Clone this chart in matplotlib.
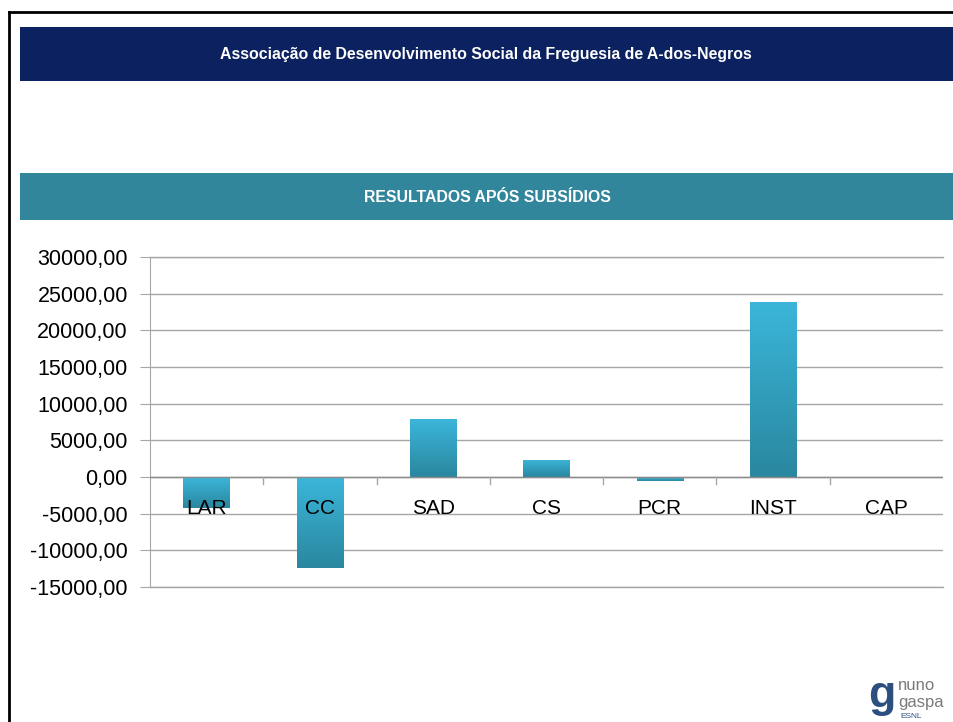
import matplotlib
matplotlib.use("Agg")
import matplotlib.pyplot as plt
import numpy as np
from matplotlib.patches import Rectangle
from matplotlib.ticker import FuncFormatter, MultipleLocator
from matplotlib.colors import LinearSegmentedColormap

categories = ["LAR", "CC", "SAD", "CS", "PCR", "INST", "CAP"]
values = [-4200, -12400, 7900, 2350, -500, 23900, -250]
title_top = "Associação de Desenvolvimento Social da Freguesia de A-dos-Negros"
title_chart = "RESULTADOS APÓS SUBSÍDIOS"

W, H = 954, 722
fig = plt.figure(figsize=(W / 100, H / 100), dpi=100)
fig.patch.set_facecolor("white")

def fy(y):
    return 1 - y / H

def fx(x):
    return x / W

narrow = ["Liberation Sans Narrow", "Liberation Sans", "DejaVu Sans"]
regular = ["Liberation Sans", "DejaVu Sans"]

# Page frame lines
fig.add_artist(plt.Line2D([fx(9), fx(9)], [fy(12), fy(722)], color="black", lw=2))
fig.add_artist(plt.Line2D([fx(9), fx(954)], [fy(12), fy(12)], color="black", lw=2))

# Header bands
fig.add_artist(Rectangle((fx(20), fy(81)), fx(934), (81 - 27) / H,
                         facecolor="#0c2260", edgecolor="none", transform=fig.transFigure))
fig.text(fx(486), fy(55), title_top, color="white", fontsize=11.4, fontweight="bold",
         ha="center", va="center", family=narrow)
fig.add_artist(Rectangle((fx(20), fy(220)), fx(934), (220 - 173) / H,
                         facecolor="#31869c", edgecolor="none", transform=fig.transFigure))
fig.text(fx(487), fy(197), title_chart, color="white", fontsize=11.4, fontweight="bold",
         ha="center", va="center", family=narrow)

# Chart axes
ax = fig.add_axes([fx(150), fy(587), (943 - 150) / W, (587 - 257) / H])
ax.set_ylim(-15000, 30000)
ax.set_xlim(-0.5, len(categories) - 0.5)
ax.yaxis.set_major_locator(MultipleLocator(5000))
ax.yaxis.set_major_formatter(FuncFormatter(lambda v, p: f"{v:.2f}".replace(".", ",")))
ax.grid(axis="y", color="#a6a6a6", lw=1)
ax.set_axisbelow(True)
for s in ["top", "right", "bottom"]:
    ax.spines[s].set_visible(False)
ax.spines["left"].set_color("#a6a6a6")
ax.tick_params(axis="y", length=7, color="#a6a6a6", labelsize=15.5, pad=9)
for lab in ax.get_yticklabels():
    lab.set_family(regular)
ax.set_xticks([])
ax.axhline(-15000, color="#a6a6a6", lw=1, clip_on=False, zorder=1)
ax.axhline(30000, color="#a6a6a6", lw=1, clip_on=False, zorder=1)

# zero axis line with category separators
ax.axhline(0, color="#8c8c8c", lw=1, zorder=3)
for k in range(1, len(categories)):
    ax.plot([k - 0.5, k - 0.5], [0, -900], color="#a6a6a6", lw=1, zorder=3)

cmap = LinearSegmentedColormap.from_list("g", ["#2a879f", "#3bb6da"])
grad = np.linspace(0, 1, 256).reshape(-1, 1)
bw = 0.41
for i, v in enumerate(values):
    lo, hi = min(0, v), max(0, v)
    if categories[i] == "CAP":
        r = Rectangle((i - bw / 2, lo), bw, hi - lo, facecolor="#e9eef0", edgecolor="none", zorder=2)
        ax.add_patch(r)
        continue
    r = Rectangle((i - bw / 2, lo), bw, hi - lo, facecolor="none", edgecolor="none", zorder=2)
    ax.add_patch(r)
    im = ax.imshow(grad, extent=[i - bw / 2, i + bw / 2, lo, hi], origin="lower",
                   cmap=cmap, aspect="auto", zorder=2)
    im.set_clip_path(r)

ax.set_xlim(-0.5, len(categories) - 0.5)
ax.set_ylim(-15000, 30000)

# category labels inside plot below zero line
for i, c in enumerate(categories):
    ax.text(i, -4300, c, ha="center", va="center", fontsize=15, family=narrow,
            color="black", zorder=4)

# logo approximation
fig.text(fx(882), fy(696), "g", fontsize=32, color="#2d4f80", ha="center", va="center",
         fontweight="bold", family=regular)
fig.text(fx(898), fy(686), "nuno", fontsize=12, color="#7a7a7a", ha="left", va="center", family=regular)
fig.text(fx(898), fy(702), "gaspa", fontsize=12, color="#7a7a7a", ha="left", va="center", family=regular)
fig.text(fx(900), fy(716), "ESNL", fontsize=6, color="#2d4f80", ha="left", va="center", family=regular)

fig.savefig("out.png", dpi=100, facecolor="white")
